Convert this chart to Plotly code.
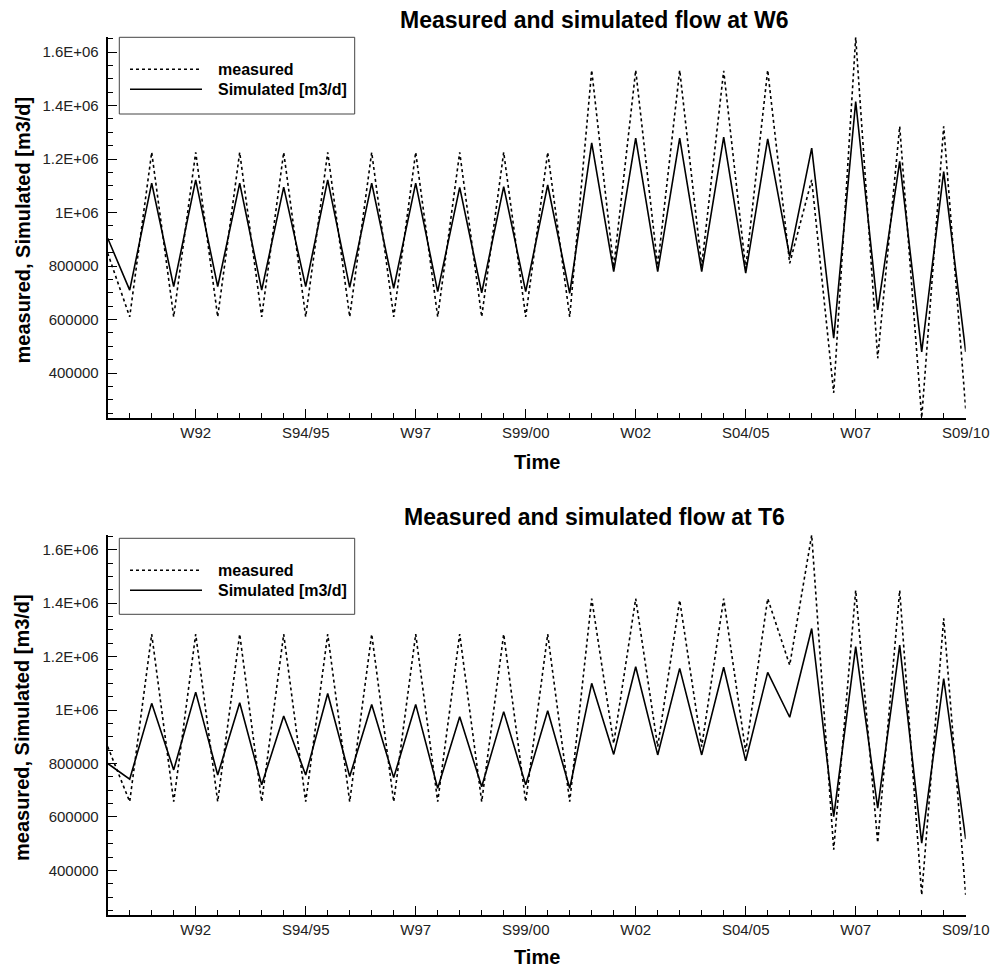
import plotly.graph_objects as go

# ---------------- data ----------------
# semester index 0..39 ; labelled ticks every 5 semesters
semester = list(range(40))
tick_pos = [4, 9, 14, 19, 24, 29, 34, 39]
tick_labels = ["W92", "S94/95", "W97", "S99/00", "W02", "S04/05", "W07", "S09/10"]

y_tick_vals = [400000, 600000, 800000, 1000000, 1200000, 1400000, 1600000]
y_tick_text = ["400000", "600000", "800000", "1E+06", "1.2E+06", "1.4E+06", "1.6E+06"]

measured_w6 = [848000, 610000, 1225000, 610000, 1225000, 610000, 1225000, 610000,
               1225000, 610000, 1225000, 610000, 1225000, 610000, 1225000, 610000,
               1225000, 610000, 1225000, 610000, 1225000, 610000, 1532000, 795000,
               1532000, 800000, 1532000, 800000, 1530000, 790000, 1532000, 810000,
               1122000, 326000, 1655000, 455000, 1322000, 233000, 1322000, 265000]
simulated_w6 = [904000, 710000, 1110000, 723000, 1122000, 723000, 1110000, 710000,
                1095000, 723000, 1122000, 720000, 1110000, 717000, 1110000, 704000,
                1094000, 700000, 1097000, 704000, 1103000, 698000, 1260000, 779000,
                1278000, 779000, 1278000, 779000, 1282000, 773000, 1275000, 835000,
                1241000, 530000, 1415000, 636000, 1191000, 479000, 1153000, 479000]

measured_t6 = [863000, 657000, 1284000, 657000, 1284000, 657000, 1284000, 657000,
               1284000, 657000, 1284000, 657000, 1284000, 657000, 1284000, 657000,
               1284000, 657000, 1284000, 657000, 1284000, 657000, 1417000, 875000,
               1417000, 863000, 1411000, 863000, 1417000, 844000, 1417000, 1168000,
               1655000, 477000, 1448000, 504000, 1448000, 308000, 1343000, 308000]
simulated_t6 = [800000, 741000, 1025000, 776000, 1067000, 757000, 1027000, 720000,
                978000, 757000, 1062000, 751000, 1021000, 747000, 1021000, 707000,
                975000, 713000, 994000, 720000, 997000, 707000, 1100000, 834000,
                1162000, 832000, 1156000, 832000, 1160000, 810000, 1141000, 973000,
                1305000, 601000, 1237000, 633000, 1243000, 502000, 1118000, 517000]

titles = ["Measured and simulated flow at W6", "Measured and simulated flow at T6"]
series_names = ["measured", "Simulated [m3/d]"]

# ---------------- layout helpers ----------------
# the page body has an 8px margin, so the figure is offset by 8px in the window
OFF = 8
W, H = 1004 - 2 * OFF, 971 - OFF
FONT = "Arial, Liberation Sans, sans-serif"


def px(x):
    return (x - OFF) / W


def py(y):
    return 1 - (y - OFF) / H


x_dom = [px(107.7), px(965.7)]
panels = [
    dict(top=37.3, bottom=417.7, title_y=20, xtitle_y=462, leg_top=37.3, leg_bot=114,
         meas=measured_w6, sim=simulated_w6, title=titles[0]),
    dict(top=535, bottom=915, title_y=517, xtitle_y=957, leg_top=538.3, leg_bot=614.3,
         meas=measured_t6, sim=simulated_t6, title=titles[1]),
]

fig = go.Figure()
shapes = []
annotations = []

for i, p in enumerate(panels):
    xa = "x" if i == 0 else "x2"
    ya = "y" if i == 0 else "y2"
    fig.add_trace(go.Scatter(x=semester, y=p["meas"], mode="lines", name=series_names[0],
                             xaxis=xa, yaxis=ya, showlegend=False,
                             line=dict(color="black", width=1.6, dash="dot")))
    fig.add_trace(go.Scatter(x=semester, y=p["sim"], mode="lines", name=series_names[1],
                             xaxis=xa, yaxis=ya, showlegend=False,
                             line=dict(color="black", width=1.6)))

    axis_common = dict(showline=True, linecolor="black", linewidth=2, showgrid=False,
                       zeroline=False, ticks="inside", ticklen=9, tickwidth=1,
                       tickcolor="black", automargin=False,
                       tickfont=dict(family=FONT, size=15, color="#222"))
    xkey = "xaxis" if i == 0 else "xaxis2"
    ykey = "yaxis" if i == 0 else "yaxis2"
    fig.update_layout(**{
        xkey: dict(axis_common, domain=x_dom, range=[0, 39], anchor=ya,
                   tickmode="array", tickvals=tick_pos, ticktext=tick_labels,
                   ticklabelstandoff=0,
                   minor=dict(ticks="inside", ticklen=5, tickwidth=1, tickcolor="black",
                              tickmode="linear", tick0=0, dtick=1)),
        ykey: dict(axis_common, domain=[py(p["bottom"]), py(p["top"])],
                   range=[233000, 1655000], anchor=xa,
                   tickmode="array", tickvals=y_tick_vals, ticktext=y_tick_text,
                   ticklabelstandoff=4,
                   minor=dict(ticks="inside", ticklen=5, tickwidth=1, tickcolor="black",
                              tickmode="linear", tick0=0, dtick=50000)),
    })

    # titles
    annotations.append(dict(text=f"<b>{p['title']}</b>", x=px(594), y=py(p["title_y"]),
                            xref="paper", yref="paper", xanchor="center", yanchor="middle",
                            showarrow=False, borderpad=0,
                            font=dict(family=FONT, size=23, color="black")))
    annotations.append(dict(text="<b>Time</b>", x=px(537), y=py(p["xtitle_y"]),
                            xref="paper", yref="paper", xanchor="center", yanchor="middle",
                            showarrow=False, borderpad=0,
                            font=dict(family=FONT, size=20, color="black")))
    annotations.append(dict(text="<b>measured, Simulated [m3/d]</b>", x=px(22),
                            y=py((p["top"] + p["bottom"]) / 2 + 3),
                            xref="paper", yref="paper", xanchor="center", yanchor="middle",
                            textangle=-90, showarrow=False,
                            font=dict(family=FONT, size=20, color="black")))

    # legend box (drawn manually)
    shapes.append(dict(type="rect", xref="paper", yref="paper",
                       x0=px(119.3), x1=px(354.7), y0=py(p["leg_bot"]), y1=py(p["leg_top"]),
                       line=dict(color="#444", width=1), fillcolor="white", layer="above"))
    ly1 = p["leg_top"] + 32
    ly2 = p["leg_top"] + 52
    shapes.append(dict(type="line", xref="paper", yref="paper", x0=px(130), x1=px(202),
                       y0=py(ly1), y1=py(ly1), line=dict(color="black", width=1.6, dash="dot"),
                       layer="above"))
    shapes.append(dict(type="line", xref="paper", yref="paper", x0=px(130), x1=px(202),
                       y0=py(ly2), y1=py(ly2), line=dict(color="black", width=1.6),
                       layer="above"))
    for name, yy in zip(series_names, [ly1, ly2]):
        annotations.append(dict(text=f"<b>{name}</b>", x=px(216), y=py(yy),
                                xref="paper", yref="paper", xanchor="left", yanchor="middle",
                                showarrow=False, font=dict(family=FONT, size=16, color="black")))

fig.update_layout(width=W, height=H,
                  margin=dict(l=0, r=0, t=0, b=0, pad=0, autoexpand=False),
                  paper_bgcolor="white", plot_bgcolor="white", showlegend=False,
                  shapes=shapes, annotations=annotations)

fig.write_html("out.html")
